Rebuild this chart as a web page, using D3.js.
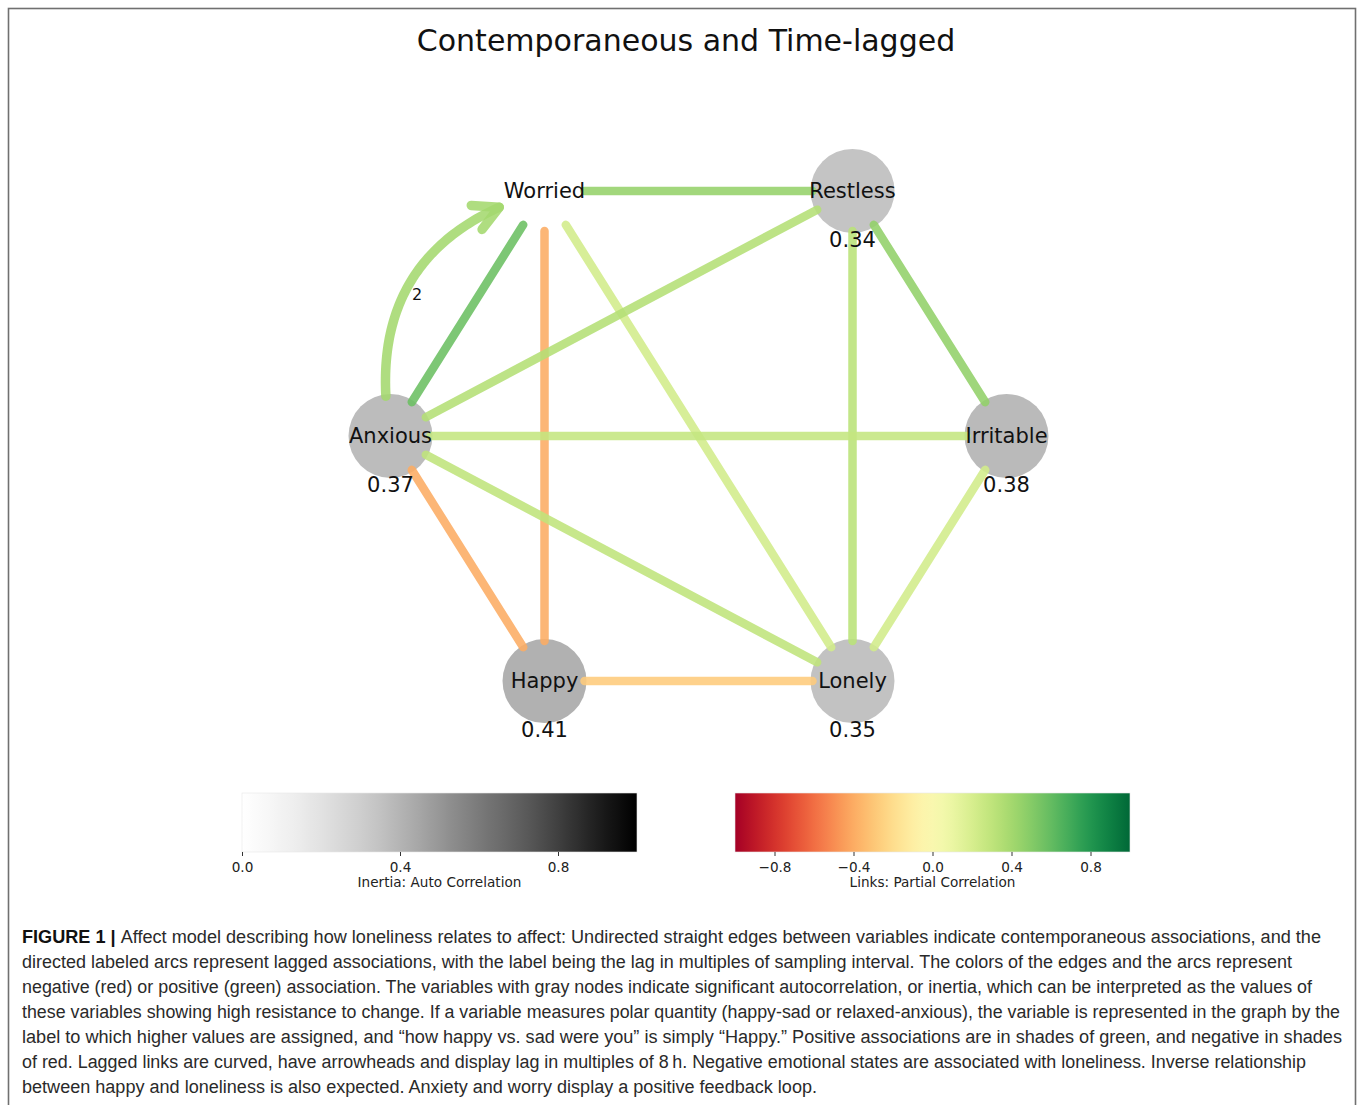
<!DOCTYPE html>
<html><head><meta charset="utf-8">
<script src="https://cdn.jsdelivr.net/npm/d3@7"></script>
<style>body{margin:0;background:#fff} svg{display:block}</style>
</head><body><svg id="c" width="1358" height="1105"></svg>
<script>
// ---------- data ----------
const nodeNames = ["Irritable", "Restless", "Worried", "Anxious", "Happy", "Lonely"];
const inertia   = [0.38, 0.34, null, 0.37, 0.41, 0.35];

const edgeSource = ["Worried", "Worried", "Worried", "Worried", "Restless", "Restless", "Restless", "Anxious", "Anxious", "Anxious", "Irritable", "Happy"];
const edgeTarget = ["Restless", "Anxious", "Happy", "Lonely", "Anxious", "Lonely", "Irritable", "Irritable", "Lonely", "Happy", "Lonely", "Lonely"];
const edgeWeight = [0.45, 0.58, -0.40, 0.22, 0.34, 0.32, 0.46, 0.28, 0.30, -0.40, 0.22, -0.28];

const lagSource = ["Anxious"];
const lagTarget = ["Worried"];
const lagValue  = [2];
const lagWeight = [0.40];

const inertiaTicks = [0.0, 0.4, 0.8];
const corrTicks = [-0.8, -0.4, 0.0, 0.4, 0.8];

const captionLines = [
  "Affect model describing how loneliness relates to affect: Undirected straight edges between variables indicate contemporaneous associations, and the",
  "directed labeled arcs represent lagged associations, with the label being the lag in multiples of sampling interval. The colors of the edges and the arcs represent",
  "negative (red) or positive (green) association. The variables with gray nodes indicate significant autocorrelation, or inertia, which can be interpreted as the values of",
  "these variables showing high resistance to change. If a variable measures polar quantity (happy-sad or relaxed-anxious), the variable is represented in the graph by the",
  "label to which higher values are assigned, and \u201chow happy vs. sad were you\u201d is simply \u201cHappy.\u201d Positive associations are in shades of green, and negative in shades",
  "of red. Lagged links are curved, have arrowheads and display lag in multiples of 8\u2009h. Negative emotional states are associated with loneliness. Inverse relationship",
  "between happy and loneliness is also expected. Anxiety and worry display a positive feedback loop."
];
const captionEnds = [1321, 1292, 1312, 1340, 1342, 1306, 817];

// ---------- drawing ----------
const svg = d3.select("#c");
const FONT = "DejaVu Sans, Verdana, sans-serif";

svg.append("rect").attr("x", 8.5).attr("y", 8.5).attr("width", 1347).attr("height", 1130)
  .attr("fill", "none").attr("stroke", "#707070").attr("stroke-width", 1.6);

svg.append("text").attr("x", 686).attr("y", 51).attr("text-anchor", "middle")
  .attr("font-family", FONT).attr("font-size", 30).attr("fill", "#111")
  .text("Contemporaneous and Time-lagged");

const xS = d3.scaleLinear().domain([-1, 1]).range([390.5, 1006.5]);
const yS = d3.scaleLinear().domain([-1, 1]).range([719, 153]);
const greys = v => d3.interpolateGreys(v);
const rdylgn = d3.scaleSequential(d3.interpolateRdYlGn).domain([-1, 1]);

const nodes = nodeNames.map((n, i) => {
  const a = i * Math.PI / 3;
  return {name: n, inertia: inertia[i], x: xS(Math.cos(a)), y: yS(Math.sin(a))};
});
const byName = Object.fromEntries(nodes.map(n => [n.name, n]));
const R = 42;

// nodes
svg.append("g").selectAll("circle").data(nodes).join("circle")
  .attr("cx", d => d.x).attr("cy", d => d.y).attr("r", R)
  .attr("fill", d => d.inertia == null ? "#fff" : greys(d.inertia));

// edges
const edges = edgeSource.map((s, i) => ({s: byName[s], t: byName[edgeTarget[i]], w: edgeWeight[i]}));
const EO = 0.88;
svg.append("g").selectAll("line").data(edges).join("line")
  .each(function(d) {
    const dx = d.t.x - d.s.x, dy = d.t.y - d.s.y, L = Math.hypot(dx, dy);
    const ux = dx / L, uy = dy / L, sh = 40;
    d3.select(this).attr("x1", d.s.x + ux * sh).attr("y1", d.s.y + uy * sh)
      .attr("x2", d.t.x - ux * sh).attr("y2", d.t.y - uy * sh);
  })
  .attr("stroke", d => rdylgn(d.w)).attr("stroke-width", 8.5)
  .attr("stroke-linecap", "round").attr("stroke-opacity", EO);

// lagged arcs
const lagG = svg.append("g");
lagSource.forEach((s, i) => {
  const A = byName[s], W = byName[lagTarget[i]];
  const rad = 0.45;
  const dx = W.x - A.x, dy = W.y - A.y;
  const C = {x: (A.x + W.x) / 2 + rad * dy, y: (A.y + W.y) / 2 - rad * dx};
  const B = t => ({x: (1-t)*(1-t)*A.x + 2*t*(1-t)*C.x + t*t*W.x,
                   y: (1-t)*(1-t)*A.y + 2*t*(1-t)*C.y + t*t*W.y});
  const dB = t => ({x: 2*(1-t)*(C.x-A.x) + 2*t*(W.x-C.x), y: 2*(1-t)*(C.y-A.y) + 2*t*(W.y-C.y)});
  let t0 = 0, t1 = 1;
  while (Math.hypot(B(t0).x - A.x, B(t0).y - A.y) < 40) t0 += 0.001;
  while (Math.hypot(B(t1).x - W.x, B(t1).y - W.y) < 48) t1 -= 0.001;
  const pts = d3.range(0, 61).map(k => B(t0 + (t1 - t0) * k / 60));
  const col = rdylgn(lagWeight[i]);
  lagG.append("path").attr("d", d3.line().x(p => p.x).y(p => p.y)(pts))
    .attr("fill", "none").attr("stroke", col).attr("stroke-width", 9.5)
    .attr("stroke-linecap", "round").attr("stroke-opacity", EO);
  const P = B(t1), D = dB(t1), dl = Math.hypot(D.x, D.y);
  const bx = -D.x / dl, by = -D.y / dl, ang = 28 * Math.PI / 180, hl = 28;
  const w1 = {x: P.x + hl * (bx * Math.cos(ang) - by * Math.sin(ang)), y: P.y + hl * (bx * Math.sin(ang) + by * Math.cos(ang))};
  const w2 = {x: P.x + hl * (bx * Math.cos(-ang) - by * Math.sin(-ang)), y: P.y + hl * (bx * Math.sin(-ang) + by * Math.cos(-ang))};
  lagG.append("path").attr("d", `M${w1.x},${w1.y}L${P.x},${P.y}L${w2.x},${w2.y}`)
    .attr("fill", "none").attr("stroke", col).attr("stroke-width", 9.5)
    .attr("stroke-linecap", "round").attr("stroke-linejoin", "round").attr("stroke-opacity", EO);
  const M = B(0.45);
  lagG.append("text").attr("x", M.x + 12).attr("y", M.y + 3).attr("dy", "0.35em")
    .attr("text-anchor", "middle").attr("font-family", FONT).attr("font-size", 16).attr("fill", "#111")
    .text(lagValue[i]);
});

// node labels
const lab = svg.append("g").attr("font-family", FONT).attr("font-size", 21).attr("fill", "#111").attr("text-anchor", "middle");
lab.selectAll("text.n").data(nodes).join("text").attr("class", "n")
  .attr("x", d => d.x).attr("y", d => d.y).attr("dy", "0.35em").text(d => d.name);
lab.selectAll("text.v").data(nodes.filter(d => d.inertia != null)).join("text").attr("class", "v")
  .attr("x", d => d.x).attr("y", d => d.y + 49).attr("dy", "0.35em").text(d => d3.format(".2f")(d.inertia));

// colorbars
const defs = svg.append("defs");
function colorbar(id, x0, x1, domain, interp, ticks, title) {
  const g = defs.append("linearGradient").attr("id", id);
  d3.range(0, 41).forEach(k => g.append("stop").attr("offset", k / 40).attr("stop-color", interp(k / 40)));
  svg.append("rect").attr("x", x0).attr("y", 793).attr("width", x1 - x0).attr("height", 59)
    .attr("fill", `url(#${id})`).attr("stroke", "#e6e6e6").attr("stroke-width", 0.6);
  const sc = d3.scaleLinear().domain(domain).range([x0, x1]);
  const ax = svg.append("g").attr("transform", "translate(0,852)")
    .call(d3.axisBottom(sc).tickValues(ticks).tickSize(4).tickPadding(6).tickFormat(d3.format(".1f")));
  ax.select(".domain").remove();
  ax.selectAll("line").attr("stroke", "#333");
  ax.selectAll("text").attr("font-family", FONT).attr("font-size", 13.6).attr("fill", "#222");
  svg.append("text").attr("x", (x0 + x1) / 2).attr("y", 887).attr("text-anchor", "middle")
    .attr("font-family", FONT).attr("font-size", 13.6).attr("fill", "#222").text(title);
}
colorbar("gGrey", 242, 637, [0, 1], d3.interpolateGreys, inertiaTicks, "Inertia: Auto Correlation");
colorbar("gRdYlGn", 735, 1130, [-1, 1], d3.interpolateRdYlGn, corrTicks, "Links: Partial Correlation");

// caption
const CF = "Liberation Sans Narrow, Liberation Sans, Arial, sans-serif";
captionLines.forEach((line, i) => {
  const t = svg.append("text").attr("x", 22).attr("y", 943 + i * 25)
    .attr("font-family", CF).attr("font-size", 18).attr("fill", "#2a2a2a")
    .attr("textLength", captionEnds[i] - 22).attr("lengthAdjust", "spacingAndGlyphs");
  if (i === 0) t.append("tspan").attr("font-weight", "bold").attr("fill", "#111").text("FIGURE 1 | ");
  t.append("tspan").text(line);
});
</script></body></html>
